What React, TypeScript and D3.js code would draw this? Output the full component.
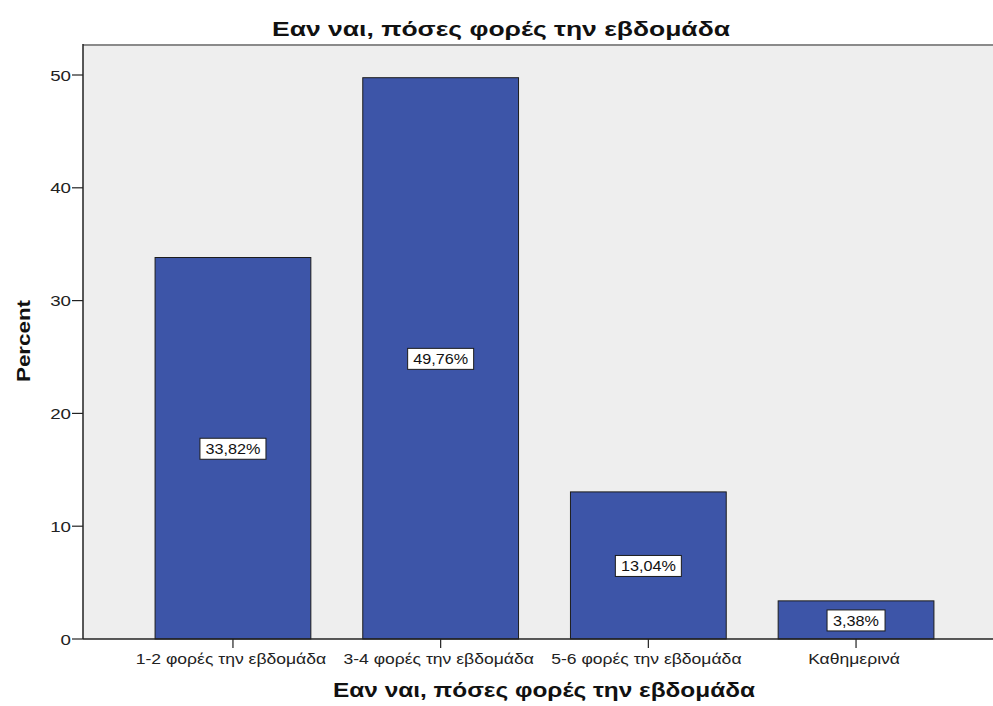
import React from "react";
import * as d3 from "d3";

const categories = [
  "1-2 φορές την εβδομάδα",
  "3-4 φορές την εβδομάδα",
  "5-6 φορές την εβδομάδα",
  "Καθημερινά",
];
const percents = [33.82, 49.76, 13.04, 3.38];
const valueLabels = ["33,82%", "49,76%", "13,04%", "3,38%"];
const yTicks = [0, 10, 20, 30, 40, 50];
const titleText = "Εαν ναι, πόσες φορές την εβδομάδα";
const xTitleText = "Εαν ναι, πόσες φορές την εβδομάδα";
const yTitleText = "Percent";

const W = 993;
const H = 706;
const plotLeft = 83;
const plotRight = 1006;
const plotTop = 45;
const plotBottom = 639;

const FONT = "'Liberation Sans', Arial, sans-serif";

export default function App() {
  const x = d3
    .scaleBand<string>()
    .domain(categories)
    .range([plotLeft, plotRight])
    .paddingInner(0.25)
    .paddingOuter(0.347);
  const y = d3.scaleLinear().domain([0, 50]).range([plotBottom, 75]);

  const labelW = (s: string) => s.length * 8 + 18;

  return (
    <svg
      width={W}
      height={H}
      style={{ position: "absolute", left: 0, top: 0, background: "#fff" }}
      fontFamily={FONT}
    >
      {/* plot background */}
      <rect x={plotLeft} y={plotTop} width={W - plotLeft} height={plotBottom - plotTop} fill="#eeeeee" />
      <line x1={plotLeft} x2={W} y1={plotTop} y2={plotTop} stroke="#8a8a8a" strokeWidth={2} />

      {/* bars */}
      {categories.map((c, i) => (
        <rect
          key={c}
          x={x(c)!}
          y={y(percents[i])}
          width={x.bandwidth()}
          height={plotBottom - y(percents[i])}
          fill="#3d55a8"
          stroke="#1c1c1c"
          strokeWidth={1}
        />
      ))}

      {/* value labels */}
      {categories.map((c, i) => {
        const cx = x(c)! + x.bandwidth() / 2;
        const cy = y(percents[i] / 2);
        const w = labelW(valueLabels[i]);
        return (
          <g key={"l" + c}>
            <rect x={cx - w / 2} y={cy - 10} width={w} height={21} fill="#fff" stroke="#1c1c1c" strokeWidth={1} />
            <text
              transform={`translate(${cx}, ${cy + 6}) scale(1.08, 1)`}
              textAnchor="middle"
              fontSize={15}
              fill="#111"
            >
              {valueLabels[i]}
            </text>
          </g>
        );
      })}

      {/* y axis */}
      <line x1={plotLeft} x2={plotLeft} y1={plotTop - 1} y2={plotBottom} stroke="#222" strokeWidth={1.5} />
      {yTicks.map((t) => (
        <g key={t}>
          <line x1={plotLeft - 11} x2={plotLeft} y1={y(t)} y2={y(t)} stroke="#222" strokeWidth={1.2} />
          <text
            transform={`translate(${plotLeft - 12}, ${y(t) + 5.5}) scale(1.25, 1)`}
            textAnchor="end"
            fontSize={15}
            fill="#222"
          >
            {t}
          </text>
        </g>
      ))}

      {/* x axis */}
      <line x1={plotLeft} x2={W} y1={plotBottom} y2={plotBottom} stroke="#222" strokeWidth={1.5} />
      {categories.map((c) => {
        const cx = x(c)! + x.bandwidth() / 2;
        return (
          <g key={"t" + c}>
            <line x1={cx} x2={cx} y1={plotBottom} y2={plotBottom + 9} stroke="#222" strokeWidth={1.2} />
            <text
              transform={`translate(${cx - 2}, 664) scale(1.17, 1)`}
              textAnchor="middle"
              fontSize={15}
              fill="#222"
            >
              {c}
            </text>
          </g>
        );
      })}

      {/* titles */}
      <text
        x={501}
        y={36}
        textAnchor="middle"
        fontSize={21}
        fontWeight="bold"
        fill="#111"
        textLength={458}
        lengthAdjust="spacingAndGlyphs"
      >
        {titleText}
      </text>
      <text
        x={544}
        y={697}
        textAnchor="middle"
        fontSize={20}
        fontWeight="bold"
        fill="#111"
        textLength={422}
        lengthAdjust="spacingAndGlyphs"
      >
        {xTitleText}
      </text>
      <text
        transform={`translate(30, 341) rotate(-90)`}
        textAnchor="middle"
        fontSize={19}
        fontWeight="bold"
        fill="#111"
        textLength={82}
        lengthAdjust="spacingAndGlyphs"
      >
        {yTitleText}
      </text>
    </svg>
  );
}
